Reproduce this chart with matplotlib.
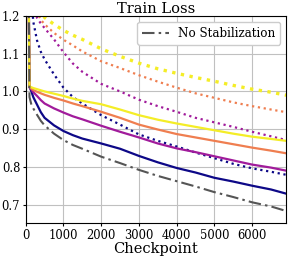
import numpy as np
import matplotlib
matplotlib.use("Agg")
import matplotlib.pyplot as plt

plt.rcParams['font.family'] = 'DejaVu Serif'

# checkpoints shared by every run
steps = [50, 100, 150, 200, 300, 400, 500, 750, 1000, 1250, 1500, 2000,
         2500, 3000, 3500, 4000, 4500, 5000, 5500, 6000, 6500, 6900]

# baseline without stabilization
no_stab = [1.6, 0.985, 0.965, 0.955, 0.938, 0.922, 0.910, 0.888, 0.871, 0.858,
           0.848, 0.827, 0.810, 0.792, 0.776, 0.762, 0.748, 0.733, 0.720,
           0.706, 0.695, 0.683]

# solid runs (dark -> bright)
solid_0 = [1.6, 1.012, 1.000, 0.985, 0.965, 0.945, 0.930, 0.910, 0.895, 0.884,
           0.875, 0.862, 0.848, 0.829, 0.812, 0.797, 0.785, 0.771, 0.761,
           0.750, 0.740, 0.729]
solid_1 = [1.6, 1.012, 1.005, 0.998, 0.988, 0.977, 0.968, 0.955, 0.944, 0.934,
           0.926, 0.909, 0.893, 0.878, 0.862, 0.849, 0.839, 0.828, 0.817,
           0.806, 0.798, 0.790]
solid_2 = [1.6, 1.012, 1.008, 1.004, 0.999, 0.995, 0.991, 0.983, 0.976, 0.968,
           0.961, 0.946, 0.930, 0.912, 0.899, 0.887, 0.878, 0.869, 0.860,
           0.851, 0.843, 0.836]
solid_3 = [1.6, 1.013, 1.011, 1.009, 1.006, 1.003, 1.000, 0.994, 0.988, 0.981,
           0.975, 0.966, 0.952, 0.937, 0.925, 0.915, 0.906, 0.897, 0.888,
           0.880, 0.874, 0.869]

# dotted runs (dark -> bright)
dotted_0 = [1.6, 1.36, 1.25, 1.185, 1.135, 1.105, 1.085, 1.045, 1.010, 0.985,
            0.968, 0.937, 0.912, 0.886, 0.869, 0.854, 0.838, 0.823, 0.808,
            0.796, 0.787, 0.779]
dotted_1 = [1.8, 1.5, 1.33, 1.24, 1.195, 1.180, 1.168, 1.138, 1.104, 1.074,
            1.052, 1.020, 1.000, 0.978, 0.961, 0.946, 0.930, 0.918, 0.906,
            0.893, 0.881, 0.871]
dotted_2 = [2.0, 1.6, 1.4, 1.28, 1.21, 1.19, 1.178, 1.155, 1.137, 1.122,
            1.106, 1.080, 1.062, 1.043, 1.026, 1.010, 0.995, 0.983, 0.971,
            0.961, 0.952, 0.945]
dotted_3 = [2.2, 1.8, 1.55, 1.4, 1.28, 1.225, 1.196, 1.178, 1.162, 1.149,
            1.138, 1.113, 1.093, 1.075, 1.060, 1.048, 1.037, 1.027, 1.016,
            1.006, 0.998, 0.990]

solid_runs = [solid_0, solid_1, solid_2, solid_3]
dotted_runs = [dotted_0, dotted_1, dotted_2, dotted_3]
colors = plt.cm.plasma([0.0, 0.35, 0.68, 0.97])

fig = plt.figure(figsize=(2.89, 2.58), dpi=100)
ax = fig.add_axes([0.089, 0.134, 0.901, 0.804])

for i, run in enumerate(dotted_runs):
    lw = 2.4 if i == 3 else 1.6
    ax.plot(steps, run, linestyle=':', color=colors[i], lw=lw)
for i, run in enumerate(solid_runs):
    ax.plot(steps, run, linestyle='-', color=colors[i], lw=1.6)
ax.plot(steps, no_stab, linestyle=(0, (6, 2, 1.2, 2)), color='#555555',
        lw=1.5, label='No Stabilization')

ax.set_xlim(0, 6900)
ax.set_ylim(0.65, 1.2)
ax.set_xticks([0, 1000, 2000, 3000, 4000, 5000, 6000])
ax.set_yticks([0.7, 0.8, 0.9, 1.0, 1.1, 1.2])
ax.tick_params(labelsize=8.3, length=2.5, pad=1.5)
ax.grid(True, color='#c0c0c0', lw=0.8)
ax.set_axisbelow(True)
ax.set_title('Train Loss', fontsize=10.5, pad=2)
ax.set_xlabel('Checkpoint', fontsize=10.5, labelpad=0)
ax.legend(loc='upper right', fontsize=8.6, handlelength=2.2,
          borderpad=0.4, framealpha=1)

fig.savefig('out.png', dpi=100)
